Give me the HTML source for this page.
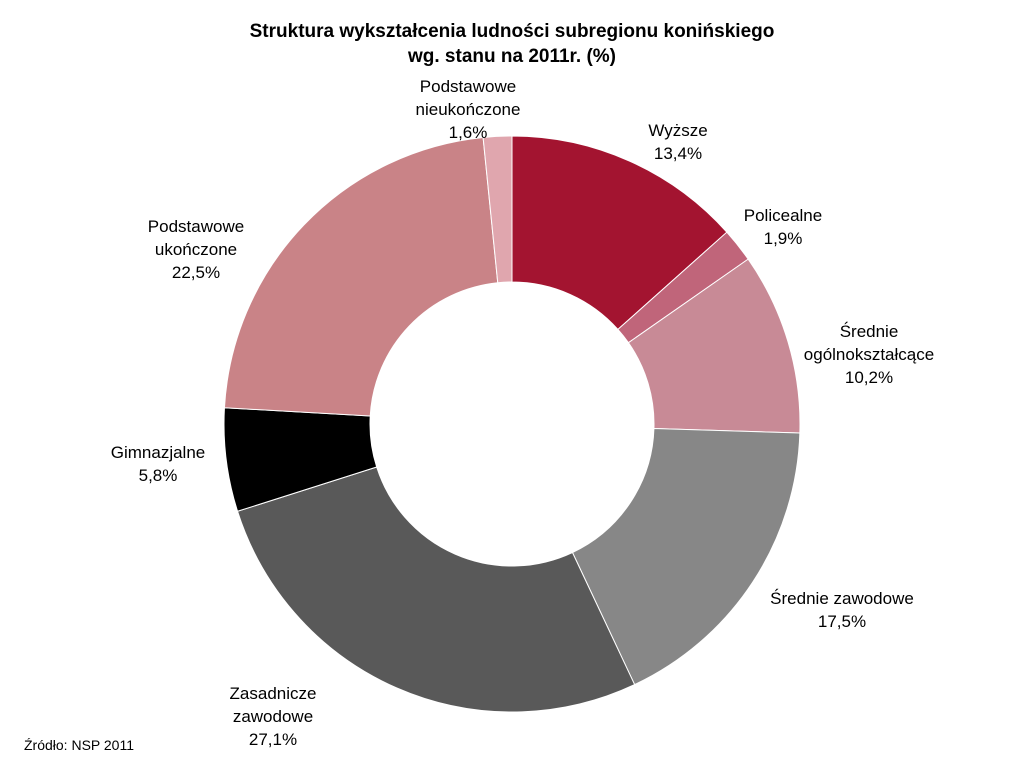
<!DOCTYPE html>
<html><head><meta charset="utf-8"><style>
body{margin:0;background:#fff;width:1024px;height:777px;overflow:hidden;font-family:"Liberation Sans",Arial,sans-serif}
svg text{font-family:"Liberation Sans",Arial,sans-serif}
</style></head><body>
<svg id="chart" width="1024" height="777" viewBox="0 0 1024 777">
<text x="512" y="37" text-anchor="middle" font-size="19" font-weight="bold">Struktura wykształcenia ludności subregionu konińskiego</text>
<text x="512" y="62" text-anchor="middle" font-size="19" font-weight="bold">wg. stanu na 2011r. (%)</text>
<g id="slices"></g>
<g id="labels"></g>
<text x="24" y="750" font-size="14">Źródło:  NSP 2011</text>
</svg>
<script>
const categories = [["Wyższe"],["Policealne"],["Średnie","ogólnokształcące"],["Średnie zawodowe"],["Zasadnicze","zawodowe"],["Gimnazjalne"],["Podstawowe","ukończone"],["Podstawowe","nieukończone"]];
const values = [13.4,1.9,10.2,17.5,27.1,5.8,22.5,1.6];
const valueLabels = ["13,4%","1,9%","10,2%","17,5%","27,1%","5,8%","22,5%","1,6%"];
const colors = ["#A31430","#C0657A","#C88A96","#878787","#595959","#000000","#C98387","#E0A6AE"];
const labelPos = [[678,136],[783,221],[869,337],[842,604],[273,699],[158,458],[196,232],[468,92]];
const cx=512, cy=424, R=288, r=142;
const NS="http://www.w3.org/2000/svg";
const total = values.reduce((a,b)=>a+b,0);
function pt(rad,a){return [cx+rad*Math.sin(a), cy-rad*Math.cos(a)];}
let acc=0;
const gS=document.getElementById('slices'), gL=document.getElementById('labels');
values.forEach((v,i)=>{
  const a0=acc/total*2*Math.PI; acc+=v; const a1=acc/total*2*Math.PI;
  const large=(a1-a0)>Math.PI?1:0;
  const [x0,y0]=pt(R,a0),[x1,y1]=pt(R,a1),[x2,y2]=pt(r,a1),[x3,y3]=pt(r,a0);
  const p=document.createElementNS(NS,'path');
  p.setAttribute('d',`M${x0},${y0}A${R},${R} 0 ${large} 1 ${x1},${y1}L${x2},${y2}A${r},${r} 0 ${large} 0 ${x3},${y3}Z`);
  p.setAttribute('fill',colors[i]);
  p.setAttribute('stroke','#fff');
  p.setAttribute('stroke-width','1');
  
  
  gS.appendChild(p);
  const lines=categories[i].concat([valueLabels[i]]);
  const t=document.createElementNS(NS,'text');
  
  
  t.setAttribute('text-anchor','middle');
  t.setAttribute('font-size','17');
  lines.forEach((ln,j)=>{
    const s=document.createElementNS(NS,'tspan');
    s.setAttribute('x',labelPos[i][0]);
    s.setAttribute('y',labelPos[i][1]+j*23);
    s.textContent=ln;
    t.appendChild(s);
  });
  gL.appendChild(t);
});
</script>
</body></html>
